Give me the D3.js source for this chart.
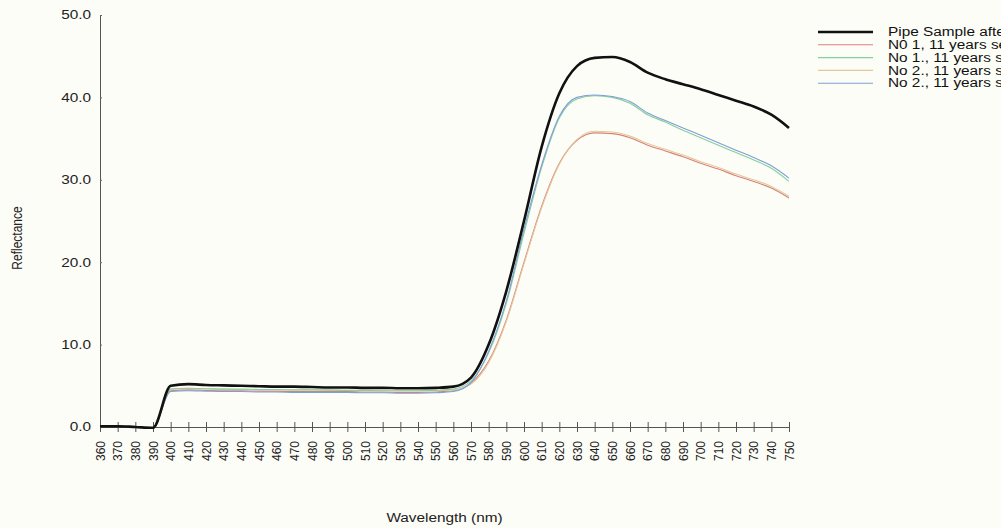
<!DOCTYPE html>
<html>
<head>
<meta charset="utf-8">
<script src="https://cdn.jsdelivr.net/npm/d3@7"></script>
<style>
  body { margin: 0; background: #fdfdf7; }
  svg { display: block; }
</style>
</head>
<body>
<script>
// DATA
var wavelengths = d3.range(360, 751, 10);
var tickLabels = wavelengths.map(function(d) { return String(d); });
var yTicks = [0, 10, 20, 30, 40, 50];

var seriesNames = [
    "Pipe Sample after cleaning",
    "N0 1, 11 years service",
    "No 1., 11 years service",
    "No 2., 11 years service",
    "No 2., 11 years service"
];

var pipeSample = [0.1, 0.1, 0.0, -0.1, 5.0, 5.2, 5.1, 5.05, 5.0, 4.95,
                  4.9, 4.9, 4.85, 4.8, 4.8, 4.75, 4.75, 4.7, 4.7, 4.75,
                  4.9, 6.0, 10.0, 16.5, 25.0, 34.0, 40.5, 43.8, 44.8, 44.9,
                  44.3, 43.0, 42.2, 41.6, 41.0, 40.3, 39.6, 38.9, 37.9, 36.3];
var no1a = [0.1, 0.1, 0.0, -0.1, 4.4, 4.5, 4.45, 4.4, 4.4, 4.35,
            4.35, 4.3, 4.3, 4.3, 4.3, 4.25, 4.25, 4.2, 4.2, 4.25,
            4.4, 5.3, 8.0, 13.0, 20.0, 26.8, 32.0, 34.8, 35.7, 35.6,
            35.1, 34.2, 33.5, 32.8, 32.0, 31.3, 30.5, 29.8, 29.0, 27.8];
var no1b = [0.1, 0.1, 0.0, -0.1, 4.6, 4.7, 4.65, 4.6, 4.6, 4.55,
            4.55, 4.5, 4.5, 4.5, 4.45, 4.45, 4.4, 4.4, 4.4, 4.45,
            4.6, 5.6, 9.0, 15.0, 23.5, 31.5, 37.5, 39.8, 40.2, 40.0,
            39.3, 37.9, 37.0, 36.0, 35.1, 34.2, 33.3, 32.4, 31.4, 29.8];
var no2a = [0.1, 0.1, 0.0, -0.1, 4.6, 4.7, 4.65, 4.6, 4.55, 4.55,
            4.5, 4.5, 4.5, 4.45, 4.45, 4.4, 4.4, 4.4, 4.4, 4.45,
            4.5, 5.2, 7.8, 12.8, 19.8, 26.6, 31.9, 34.9, 35.9, 35.8,
            35.3, 34.4, 33.7, 33.0, 32.2, 31.5, 30.7, 30.0, 29.2, 28.0];
var no2b = [0.1, 0.1, 0.0, -0.1, 4.3, 4.4, 4.35, 4.3, 4.3, 4.25,
            4.25, 4.2, 4.2, 4.2, 4.2, 4.15, 4.15, 4.1, 4.1, 4.15,
            4.3, 5.4, 9.2, 15.3, 24.0, 31.8, 37.7, 40.0, 40.3, 40.1,
            39.5, 38.1, 37.2, 36.3, 35.4, 34.5, 33.6, 32.7, 31.7, 30.2];

var seriesValues = [pipeSample, no1a, no1b, no2a, no2b];
var seriesColors = ["#111111", "#d98078", "#86cf9c", "#e2c99c", "#7f9ed6"];
var seriesWidths = [2.6, 1.1, 1.1, 1.1, 1.1];

// LAYOUT
var w = 1001, h = 528;
var plotLeft = 100, plotRight = 789, plotTop = 15, plotBottom = 427;
var stretch = 1.28;   // the scanned text is wider than it is tall
var font = "'Liberation Sans', Arial, sans-serif";

var svg = d3.select("body")
    .append("svg")
    .attr("width", w)
    .attr("height", h)
    .style("font-family", font);

var x = d3.scaleLinear().domain([360, 750]).range([plotLeft, plotRight]);
var y = d3.scaleLinear().domain([0, 50]).range([plotBottom, plotTop]);

// y axis
var yAxis = svg.append("g")
    .attr("transform", "translate(" + plotLeft + ",0)")
    .call(d3.axisLeft(y).tickValues(yTicks).tickSizeInner(4).tickSizeOuter(0)
          .tickFormat(d3.format(".1f")));
yAxis.select(".domain").attr("stroke", "#555");
yAxis.selectAll(".tick line").attr("stroke", "#666").attr("x2", 2);
yAxis.selectAll(".tick text")
    .attr("font-size", 12)
    .attr("font-family", font)
    .attr("fill", "#222")
    .attr("x", -9 / stretch)
    .attr("transform", "scale(" + stretch + ",1)");

// x axis
var xAxis = svg.append("g")
    .attr("transform", "translate(0," + plotBottom + ")")
    .call(d3.axisBottom(x).tickValues(wavelengths).tickSizeInner(5).tickSizeOuter(0)
          .tickFormat(function(d, i) { return tickLabels[i]; }));
xAxis.select(".domain").attr("stroke", "#555");
xAxis.selectAll(".tick line").attr("stroke", "#555").attr("y1", -5).attr("y2", 5);
xAxis.selectAll(".tick text")
    .attr("font-size", 12)
    .attr("font-family", font)
    .attr("fill", "#222")
    .attr("transform", "rotate(-90)")
    .attr("text-anchor", "end")
    .attr("dy", "0.35em")
    .attr("x", -14)
    .attr("y", 0);

// axis titles
svg.append("text")
    .attr("transform", "translate(" + ((plotLeft + plotRight) / 2) + ",522) scale(" + stretch + ",1)")
    .attr("text-anchor", "middle")
    .attr("font-size", 12)
    .attr("fill", "#222")
    .text("Wavelength (nm)");

svg.append("text")
    .attr("transform", "translate(22,238) scale(" + stretch + ",1) rotate(-90)")
    .attr("text-anchor", "middle")
    .attr("font-size", 12)
    .attr("fill", "#222")
    .text("Reflectance");

// lines, thin ones first so the black sits on top
var line = d3.line()
    .x(function(d, i) { return x(wavelengths[i]); })
    .y(function(d) { return y(d); })
    .curve(d3.curveMonotoneX);

var order = [1, 3, 2, 4, 0];
order.forEach(function(k) {
    svg.append("path")
       .datum(seriesValues[k])
       .attr("d", line)
       .attr("fill", "none")
       .attr("stroke", seriesColors[k])
       .attr("stroke-width", seriesWidths[k])
       .attr("stroke-linejoin", "round");
});

// legend
var legend = svg.append("g");
seriesNames.forEach(function(name, i) {
    var ly = 32 + i * 12.8;
    legend.append("line")
        .attr("x1", 818).attr("x2", 873)
        .attr("y1", ly).attr("y2", ly)
        .attr("stroke", seriesColors[i])
        .attr("stroke-width", i === 0 ? 2.4 : 1.1);
    legend.append("text")
        .attr("transform", "translate(888," + ly + ") scale(" + stretch + ",1)")
        .attr("dy", "0.35em")
        .attr("font-size", 12)
        .attr("fill", "#111")
        .text(name);
});
</script>
</body>
</html>
